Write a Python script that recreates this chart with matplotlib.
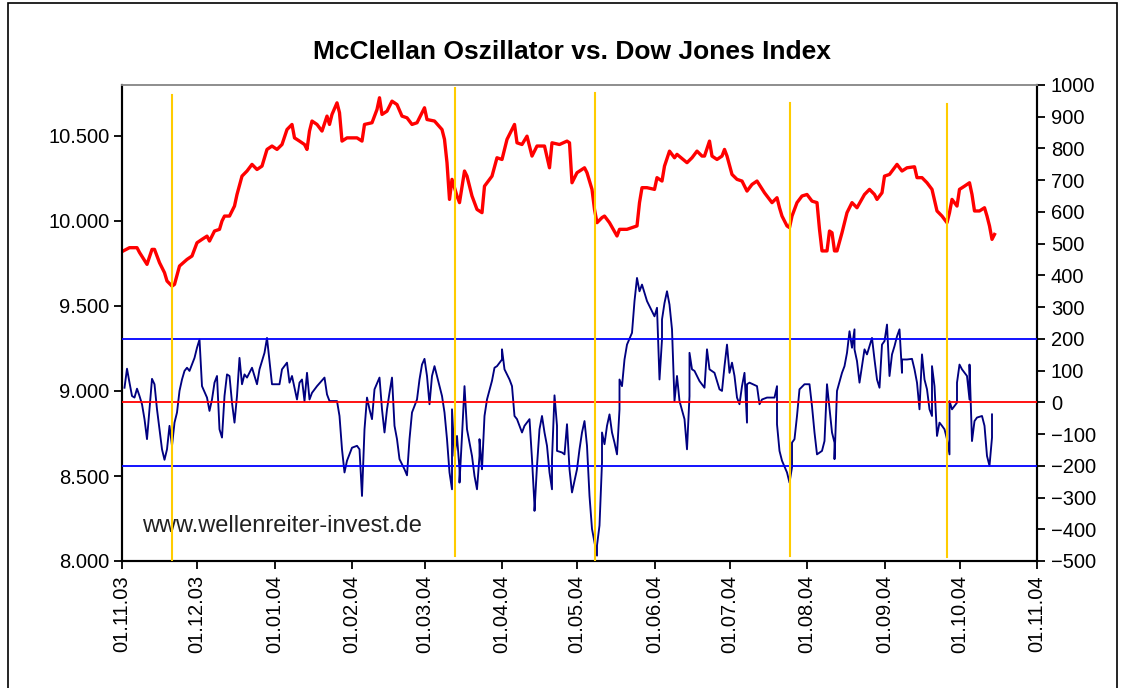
import matplotlib
matplotlib.use("Agg")
import matplotlib.pyplot as plt
import matplotlib.dates as mdates
import matplotlib.ticker as mticker
from matplotlib.patches import Rectangle
import pandas as pd

plt.rcParams['font.family'] = ['Liberation Sans', 'DejaVu Sans']

# Dow Jones (left axis)
dow_dates = [
    '2003-11-01', '2003-11-04', '2003-11-07', '2003-11-08', '2003-11-11', '2003-11-13',
    '2003-11-14', '2003-11-16', '2003-11-18', '2003-11-19', '2003-11-21', '2003-11-22',
    '2003-11-24', '2003-11-27', '2003-11-29', '2003-12-01', '2003-12-03', '2003-12-05',
    '2003-12-06', '2003-12-08', '2003-12-10', '2003-12-11', '2003-12-12', '2003-12-14',
    '2003-12-16', '2003-12-17', '2003-12-19', '2003-12-21', '2003-12-23', '2003-12-25',
    '2003-12-27', '2003-12-29', '2003-12-31', '2004-01-02', '2004-01-04', '2004-01-06',
    '2004-01-08', '2004-01-09', '2004-01-11', '2004-01-13', '2004-01-14', '2004-01-15',
    '2004-01-16', '2004-01-18', '2004-01-20', '2004-01-22', '2004-01-23', '2004-01-24',
    '2004-01-26', '2004-01-27', '2004-01-28', '2004-01-30', '2004-02-03', '2004-02-05',
    '2004-02-06', '2004-02-09', '2004-02-11', '2004-02-12', '2004-02-13', '2004-02-15',
    '2004-02-17', '2004-02-19', '2004-02-21', '2004-02-23', '2004-02-25', '2004-02-27',
    '2004-03-01', '2004-03-02', '2004-03-05', '2004-03-08', '2004-03-09', '2004-03-10',
    '2004-03-11', '2004-03-12', '2004-03-14', '2004-03-15', '2004-03-17', '2004-03-18',
    '2004-03-20', '2004-03-22', '2004-03-24', '2004-03-25', '2004-03-28', '2004-03-30',
    '2004-04-01', '2004-04-03', '2004-04-06', '2004-04-07', '2004-04-09', '2004-04-11',
    '2004-04-13', '2004-04-15', '2004-04-18', '2004-04-20', '2004-04-21', '2004-04-24',
    '2004-04-27', '2004-04-28', '2004-04-29', '2004-05-01', '2004-05-04', '2004-05-05',
    '2004-05-07', '2004-05-08', '2004-05-09', '2004-05-11', '2004-05-12', '2004-05-14',
    '2004-05-17', '2004-05-18', '2004-05-21', '2004-05-25', '2004-05-26', '2004-05-27',
    '2004-05-29', '2004-06-01', '2004-06-02', '2004-06-04', '2004-06-05', '2004-06-07',
    '2004-06-09', '2004-06-10', '2004-06-14', '2004-06-16', '2004-06-18', '2004-06-20',
    '2004-06-21', '2004-06-23', '2004-06-24', '2004-06-26', '2004-06-28', '2004-06-29',
    '2004-06-30', '2004-07-02', '2004-07-04', '2004-07-06', '2004-07-08', '2004-07-10',
    '2004-07-12', '2004-07-15', '2004-07-18', '2004-07-20', '2004-07-21', '2004-07-22',
    '2004-07-24', '2004-07-25', '2004-07-26', '2004-07-28', '2004-07-30', '2004-08-01',
    '2004-08-03', '2004-08-05', '2004-08-06', '2004-08-07', '2004-08-09', '2004-08-10',
    '2004-08-11', '2004-08-12', '2004-08-13', '2004-08-15', '2004-08-17', '2004-08-19',
    '2004-08-21', '2004-08-24', '2004-08-26', '2004-08-28', '2004-08-29', '2004-08-31',
    '2004-09-01', '2004-09-03', '2004-09-05', '2004-09-06', '2004-09-08', '2004-09-10',
    '2004-09-13', '2004-09-14', '2004-09-16', '2004-09-18', '2004-09-20', '2004-09-22',
    '2004-09-24', '2004-09-26', '2004-09-27', '2004-09-28', '2004-09-30', '2004-10-01',
    '2004-10-03', '2004-10-05', '2004-10-06', '2004-10-07', '2004-10-09', '2004-10-11',
    '2004-10-12', '2004-10-13', '2004-10-14', '2004-10-15',
]
dow_values = [
    9820, 9843, 9843, 9815, 9745, 9833,
    9833, 9755, 9696, 9647, 9617, 9627,
    9735, 9774, 9794, 9872, 9892, 9911,
    9882, 9941, 9951, 10000, 10029, 10029,
    10088, 10156, 10264, 10294, 10333, 10303,
    10323, 10421, 10441, 10421, 10450, 10538,
    10568, 10489, 10470, 10450, 10421, 10529,
    10588, 10568, 10529, 10617, 10568, 10627,
    10695, 10637, 10470, 10489, 10489, 10470,
    10568, 10578, 10656, 10725, 10627, 10646,
    10705, 10685, 10617, 10607, 10568, 10578,
    10666, 10597, 10588, 10538, 10480, 10343,
    10127, 10245, 10147, 10108, 10294, 10264,
    10147, 10068, 10049, 10205, 10264, 10372,
    10362, 10480, 10568, 10460, 10450, 10499,
    10382, 10441, 10441, 10313, 10460, 10450,
    10470, 10460, 10225, 10284, 10313, 10284,
    10186, 10068, 9990, 10020, 10029, 9990,
    9912, 9951, 9951, 9971, 10108, 10196,
    10196, 10186, 10255, 10235, 10323, 10411,
    10372, 10392, 10343, 10372, 10411, 10382,
    10382, 10470, 10382, 10362, 10382, 10421,
    10382, 10274, 10245, 10235, 10176, 10215,
    10235, 10166, 10108, 10137, 10078, 10029,
    9971, 9961, 10029, 10108, 10147, 10156,
    10117, 10108, 9951, 9824, 9824, 9941,
    9931, 9824, 9824, 9931, 10049, 10108,
    10078, 10156, 10186, 10156, 10127, 10166,
    10264, 10274, 10313, 10333, 10294, 10313,
    10319, 10255, 10255, 10225, 10186, 10059,
    10029, 9990, 10049, 10127, 10088, 10186,
    10205, 10225, 10156, 10059, 10059, 10078,
    10029, 9971, 9892, 9921,
]

# McClellan oscillator (right axis)
osc_points = [
    ('2003-11-02', 46), ('2003-11-03', 106), ('2003-11-04', 62), ('2003-11-05', 20),
    ('2003-11-06', 15), ('2003-11-07', 43), ('2003-11-08', 20), ('2003-11-09', -6),
    ('2003-11-10', -53), ('2003-11-11', -116), ('2003-11-12', -22), ('2003-11-13', 74),
    ('2003-11-14', 57), ('2003-11-15', -22), ('2003-11-16', -85), ('2003-11-17', -148),
    ('2003-11-18', -181), ('2003-11-19', -148), ('2003-11-20', -74), ('2003-11-21', -137),
    ('2003-11-22', -64), ('2003-11-23', -32), ('2003-11-24', 36), ('2003-11-25', 72),
    ('2003-11-26', 99), ('2003-11-27', 109), ('2003-11-28', 99), ('2003-11-30', 140),
    ('2003-12-01', 172), ('2003-12-02', 198), ('2003-12-03', 51), ('2003-12-05', 15),
    ('2003-12-06', -27), ('2003-12-07', 9), ('2003-12-08', 62), ('2003-12-09', 83),
    ('2003-12-10', -85), ('2003-12-11', -111), ('2003-12-12', 20), ('2003-12-13', 88),
    ('2003-12-14', 83), ('2003-12-15', -1), ('2003-12-16', -64), ('2003-12-17', 20),
    ('2003-12-18', 140), ('2003-12-19', 57), ('2003-12-20', 88), ('2003-12-21', 78),
    ('2003-12-23', 109), ('2003-12-25', 57), ('2003-12-26', 104), ('2003-12-28', 156),
    ('2003-12-29', 203), ('2003-12-31', 57), ('2004-01-02', 57), ('2004-01-03', 57),
    ('2004-01-04', 104), ('2004-01-06', 125), ('2004-01-07', 62), ('2004-01-08', 83),
    ('2004-01-10', 9), ('2004-01-11', 62), ('2004-01-12', 72), ('2004-01-13', 4),
    ('2004-01-14', 93), ('2004-01-15', 9), ('2004-01-16', 30), ('2004-01-18', 51),
    ('2004-01-21', 78), ('2004-01-22', 25), ('2004-01-23', 4), ('2004-01-26', 4),
    ('2004-01-27', -43), ('2004-01-28', -148), ('2004-01-29', -221), ('2004-01-30', -184),
    ('2004-02-01', -143), ('2004-02-03', -137), ('2004-02-04', -148), ('2004-02-05', -295),
    ('2004-02-06', -85), ('2004-02-07', 15), ('2004-02-08', -22), ('2004-02-09', -53),
    ('2004-02-10', 41), ('2004-02-12', 78), ('2004-02-13', -22), ('2004-02-14', -95),
    ('2004-02-15', -22), ('2004-02-16', 30), ('2004-02-17', 78), ('2004-02-18', -74),
    ('2004-02-19', -116), ('2004-02-20', -179), ('2004-02-22', -211), ('2004-02-23', -230),
    ('2004-02-24', -116), ('2004-02-25', -32), ('2004-02-27', 9), ('2004-02-28', 72),
    ('2004-02-29', 119), ('2004-03-01', 137), ('2004-03-02', 83), ('2004-03-03', -6),
    ('2004-03-04', 83), ('2004-03-05', 114), ('2004-03-06', 83), ('2004-03-08', 20),
    ('2004-03-09', -32), ('2004-03-10', -116), ('2004-03-11', -221), ('2004-03-12', -274),
    ('2004-03-12', -22), ('2004-03-13', -169), ('2004-03-14', -106), ('2004-03-15', -211),
    ('2004-03-15', -253), ('2004-03-16', -106), ('2004-03-17', 51), ('2004-03-18', -85),
    ('2004-03-20', -169), ('2004-03-21', -232), ('2004-03-22', -274), ('2004-03-23', -169),
    ('2004-03-23', -116), ('2004-03-24', -211), ('2004-03-25', -43), ('2004-03-26', 9),
    ('2004-03-28', 68), ('2004-03-29', 109), ('2004-03-30', 114), ('2004-04-01', 135),
    ('2004-04-01', 167), ('2004-04-02', 104), ('2004-04-04', 72), ('2004-04-05', 51),
    ('2004-04-06', -43), ('2004-04-07', -53), ('2004-04-09', -95), ('2004-04-10', -74),
    ('2004-04-12', -53), ('2004-04-13', -179), ('2004-04-14', -326), ('2004-04-14', -342),
    ('2004-04-15', -200), ('2004-04-16', -85), ('2004-04-17', -43), ('2004-04-18', -95),
    ('2004-04-19', -137), ('2004-04-20', -221), ('2004-04-21', -274), ('2004-04-21', -179),
    ('2004-04-22', 22), ('2004-04-23', -74), ('2004-04-23', -153), ('2004-04-25', -158),
    ('2004-04-26', -164), ('2004-04-27', -69), ('2004-04-28', -211), ('2004-04-29', -284),
    ('2004-05-01', -211), ('2004-05-02', -148), ('2004-05-03', -95), ('2004-05-04', -59),
    ('2004-05-05', -137), ('2004-05-06', -295), ('2004-05-07', -399), ('2004-05-08', -441),
    ('2004-05-09', -483), ('2004-05-09', -451), ('2004-05-10', -388), ('2004-05-11', -190),
    ('2004-05-11', -95), ('2004-05-12', -132), ('2004-05-13', -74), ('2004-05-14', -38),
    ('2004-05-15', -95), ('2004-05-16', -127), ('2004-05-17', -164), ('2004-05-18', -22),
    ('2004-05-18', 72), ('2004-05-19', 51), ('2004-05-20', 135), ('2004-05-21', 182),
    ('2004-05-23', 219), ('2004-05-24', 319), ('2004-05-25', 392), ('2004-05-26', 350),
    ('2004-05-27', 371), ('2004-05-29', 319), ('2004-05-31', 287), ('2004-06-01', 271),
    ('2004-06-02', 298), ('2004-06-03', 72), ('2004-06-04', 198), ('2004-06-04', 261),
    ('2004-06-05', 313), ('2004-06-06', 350), ('2004-06-07', 308), ('2004-06-08', 230),
    ('2004-06-09', 4), ('2004-06-10', 83), ('2004-06-11', 4), ('2004-06-13', -53),
    ('2004-06-14', -148), ('2004-06-15', 20), ('2004-06-15', 156), ('2004-06-16', 104),
    ('2004-06-17', 99), ('2004-06-19', 67), ('2004-06-21', 46), ('2004-06-22', 167),
    ('2004-06-23', 104), ('2004-06-25', 93), ('2004-06-27', 41), ('2004-06-28', 36),
    ('2004-06-29', 114), ('2004-06-30', 182), ('2004-07-01', 93), ('2004-07-02', 125),
    ('2004-07-03', 83), ('2004-07-04', 15), ('2004-07-05', -6), ('2004-07-06', 51),
    ('2004-07-07', 93), ('2004-07-08', -64), ('2004-07-08', 57), ('2004-07-09', 62),
    ('2004-07-12', 51), ('2004-07-13', -6), ('2004-07-14', 9), ('2004-07-16', 15),
    ('2004-07-19', 15), ('2004-07-20', 51), ('2004-07-20', -69), ('2004-07-21', -153),
    ('2004-07-22', -184), ('2004-07-24', -221), ('2004-07-25', -253), ('2004-07-26', -205),
    ('2004-07-26', -127), ('2004-07-27', -116), ('2004-07-28', -43), ('2004-07-29', 41),
    ('2004-07-31', 57), ('2004-08-02', 57), ('2004-08-03', -12), ('2004-08-04', -95),
    ('2004-08-05', -164), ('2004-08-07', -153), ('2004-08-08', -122), ('2004-08-09', 57),
    ('2004-08-11', -95), ('2004-08-12', -127), ('2004-08-12', -179), ('2004-08-13', 36),
    ('2004-08-15', 93), ('2004-08-16', 114), ('2004-08-17', 156), ('2004-08-18', 224),
    ('2004-08-19', 172), ('2004-08-20', 230), ('2004-08-20', 167), ('2004-08-21', 130),
    ('2004-08-22', 62), ('2004-08-23', 114), ('2004-08-24', 167), ('2004-08-25', 151),
    ('2004-08-27', 203), ('2004-08-28', 135), ('2004-08-29', 72), ('2004-08-30', 46),
    ('2004-08-31', 182), ('2004-09-01', 193), ('2004-09-02', 245), ('2004-09-03', 83),
    ('2004-09-04', 151), ('2004-09-05', 177), ('2004-09-06', 208), ('2004-09-07', 230),
    ('2004-09-08', 93), ('2004-09-08', 135), ('2004-09-10', 135), ('2004-09-12', 137),
    ('2004-09-13', 104), ('2004-09-14', 62), ('2004-09-15', -22), ('2004-09-16', 151),
    ('2004-09-17', 72), ('2004-09-18', 41), ('2004-09-19', -22), ('2004-09-20', -43),
    ('2004-09-20', 114), ('2004-09-21', 51), ('2004-09-22', -106), ('2004-09-23', -64),
    ('2004-09-24', -74), ('2004-09-25', -85), ('2004-09-26', -116), ('2004-09-27', -164),
    ('2004-09-27', 4), ('2004-09-28', -22), ('2004-09-30', -1), ('2004-09-30', 62),
    ('2004-10-01', 119), ('2004-10-02', 104), ('2004-10-04', 83), ('2004-10-05', 9),
    ('2004-10-05', 119), ('2004-10-06', -122), ('2004-10-07', -59), ('2004-10-08', -48),
    ('2004-10-10', -43), ('2004-10-11', -74), ('2004-10-12', -169), ('2004-10-13', -200),
    ('2004-10-14', -111), ('2004-10-14', -38),
]
osc_dates = [d for d, v in osc_points]
osc_values = [v for d, v in osc_points]

# reference levels of the oscillator and the marked turning points
osc_bands = [-200, 200]
osc_zero = 0
marker_dates = ['2003-11-21', '2004-03-13', '2004-05-08', '2004-07-25', '2004-09-26']

W, H = 1123, 688
fig = plt.figure(figsize=(W / 100, H / 100), dpi=100)
fig.patch.set_facecolor('white')

# outer chart frame
fig.patches.append(Rectangle((8 / W, -0.05), 1109 / W, 1.05 - 3 / H,
                             transform=fig.transFigure, fill=False,
                             edgecolor='black', linewidth=1.2))

ax = fig.add_axes([122 / W, 1 - 561 / H, 915 / W, 476 / H])
ax2 = ax.twinx()

ax.plot(pd.to_datetime(dow_dates), dow_values, color='#FF0000', linewidth=2.4)
ax2.plot(pd.to_datetime(osc_dates), osc_values, color='#000080', linewidth=1.35, zorder=2)

for lvl in osc_bands:
    ax2.axhline(lvl, color='#0000FF', linewidth=1.3, zorder=3)
ax2.axhline(osc_zero, color='#FF0000', linewidth=1.3, zorder=3)

marker_span = [(0.002, 0.979), (0.011, 0.994), (0.002, 0.983), (0.011, 0.962), (0.008, 0.960)]
for d, (lo, hi) in zip(marker_dates, marker_span):
    ax2.axvline(pd.Timestamp(d), lo, hi, color='#FFCC00', linewidth=1.5, zorder=4)

ax.set_xlim(pd.Timestamp('2003-11-01'), pd.Timestamp('2004-11-01'))
ax.set_ylim(8000, 10800)
ax2.set_ylim(-500, 1000)

ax.set_yticks(range(8000, 10501, 500))
ax.yaxis.set_major_formatter(mticker.FuncFormatter(lambda v, p: f'{v:,.0f}'.replace(',', '.')))
ax2.set_yticks(range(-500, 1001, 100))

ax.xaxis.set_major_locator(mdates.MonthLocator())
ax.xaxis.set_major_formatter(mdates.DateFormatter('%d.%m.%y'))
plt.setp(ax.get_xticklabels(), rotation=90, ha='center', va='top')

ax.tick_params(axis='both', direction='out', length=6, width=1.3, labelsize=14.5, colors='black')
ax.tick_params(axis='x', pad=4)
ax.tick_params(axis='y', pad=3)
ax2.tick_params(axis='y', direction='out', length=6, width=1.3, labelsize=14.5, pad=4)

for a in (ax, ax2):
    for side in ('left', 'right', 'bottom'):
        a.spines[side].set_linewidth(1.5)
        a.spines[side].set_color('black')
    a.spines['top'].set_color('#909090')
    a.spines['top'].set_linewidth(1.3)

ax.text(0.022, 0.061, 'www.wellenreiter-invest.de', transform=ax.transAxes,
        fontsize=17, color='#222222', va='baseline', ha='left')

fig.text(572 / W, 1 - 52 / H, 'McClellan Oszillator vs. Dow Jones Index',
         ha='center', va='center', fontsize=19, fontweight='bold')

fig.savefig('out.png', dpi=100)
